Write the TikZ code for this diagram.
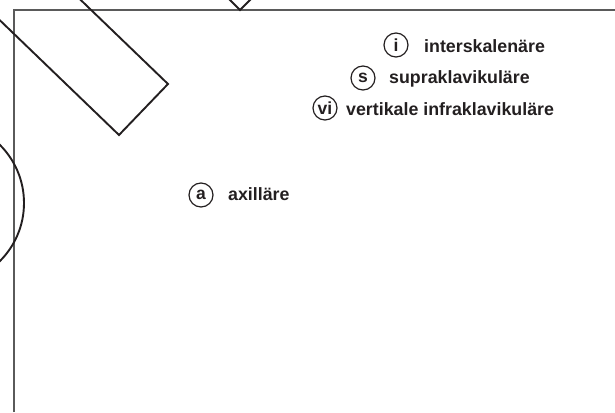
\documentclass[tikz,border=0pt]{standalone}
\usepackage{fontspec}
\setmainfont{Liberation Sans}
\definecolor{ink}{HTML}{231F20}
\definecolor{framegray}{HTML}{5A5A5A}
% letter centred on its own height
\newcommand{\midletter}[1]{\raisebox{-0.5\height}{#1}}
\begin{document}
\begin{tikzpicture}[x=1pt,y=-1pt,
  outline/.style={draw=ink,line width=1.9pt,line join=miter},
  badge/.style={circle,draw=ink,line width=1.2pt,minimum size=24pt,inner sep=0pt,
    text height=0pt,text depth=0pt,
    font=\fontsize{17.5}{20}\selectfont\bfseries,text=ink},
  caption/.style={anchor=base west,inner sep=0pt,font=\fontsize{17.8}{20}\selectfont\bfseries,text=ink}]
  \useasboundingbox (0,0) rectangle (615,412);
  \begin{scope}
    \clip (0,0) rectangle (615,412);
    % border of the plate
    \draw[framegray,line width=1.4pt] (14,412) -- (14,10) -- (615,10);
    % slanted bar at the upper left
    \draw[outline] (119,135) -- (168,84) -- (-48,-124) -- (-97,-73) -- cycle;
    % corner of the square above the border
    \draw[outline] (222,-8) -- (240,10) -- (258,-8);
    % round shape on the left edge
    \draw[outline] (-58,203) circle (82);
  \end{scope}
  % labelled approaches
  \node[badge] (bi) at (396,45) {\midletter{i}};
  \node[caption] (ti) at (424,52.5) {interskalenäre};
  \node[badge] (bs) at (363,78) {\midletter{s}};
  \node[caption] (ts) at (389,83.5) {supraklavikuläre};
  \node[badge] (bvi) at (325,108) {\midletter{vi}};
  \node[caption] (tvi) at (346,115) {vertikale infraklavikuläre};
  \node[badge] (ba) at (201,195) {\midletter{a}};
  \node[caption] (ta) at (228,200.5) {axilläre};
\end{tikzpicture}
\end{document}
